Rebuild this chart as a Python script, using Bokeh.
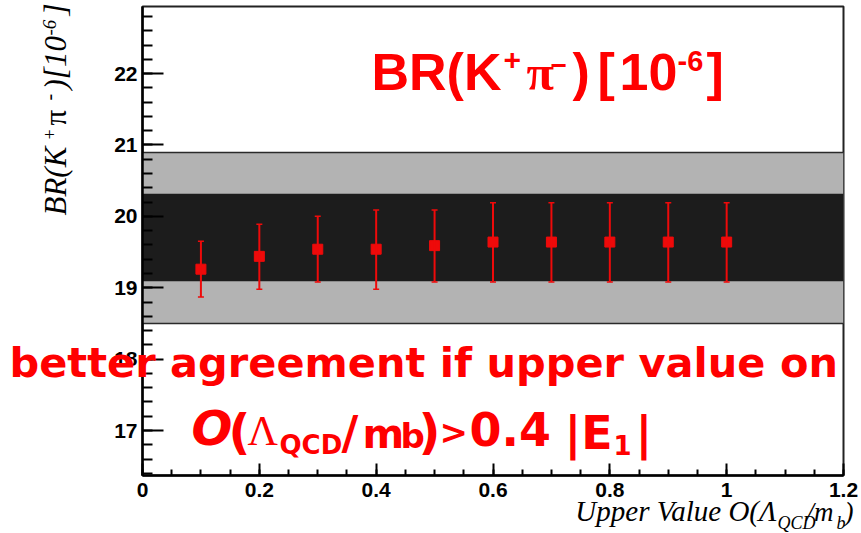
import math

from bokeh.core.properties import value
from bokeh.embed import file_html
from bokeh.models import ColumnDataSource, FixedTicker, Range1d, TeeHead, Whisker
from bokeh.plotting import figure
from bokeh.resources import INLINE

# Upper value assumed for O(Lambda_QCD/m_b), in units of |E1|
upper_value = [0.1, 0.2, 0.3, 0.4, 0.5, 0.6, 0.7, 0.8, 0.9, 1.0]
# Predicted BR(K+ pi-) in units of 1e-6, with its error range
br_pred = [19.26, 19.44, 19.54, 19.54, 19.59, 19.64, 19.64, 19.64, 19.64, 19.64]
br_pred_low = [18.87, 18.98, 19.08, 18.98, 19.08, 19.08, 19.08, 19.08, 19.08, 19.08]
br_pred_high = [19.65, 19.89, 20.00, 20.09, 20.09, 20.19, 20.19, 20.19, 20.19, 20.19]

# Experimental average: 2 sigma band (light) and 1 sigma band (dark)
exp_band_low = [18.5, 19.1]
exp_band_high = [20.9, 20.3]
exp_band_fill = ["#b3b3b3", "#1c1c1c"]
exp_band_edge = ["#2a2a2a", "#1c1c1c"]

x_ticks = [0, 0.2, 0.4, 0.6, 0.8, 1.0, 1.2]
x_tick_labels = ["0", "0.2", "0.4", "0.6", "0.8", "1", "1.2"]
y_ticks = [17, 18, 19, 20, 21, 22]
y_tick_labels = ["17", "18", "19", "20", "21", "22"]

X0, X1 = 0.0, 1.2
Y0, Y1 = 16.37, 22.94

W, H = 861, 533
FL, FR, FT, FB = 142, 843, 6, 475  # frame edges in pixels

RED = "#ff0000"
MARK = "#ee0a0a"

p = figure(
    width=W, height=H,
    x_range=Range1d(X0, X1), y_range=Range1d(Y0, Y1),
    output_backend="svg", toolbar_location=None,
    min_border_left=FL, min_border_right=W - FR,
    min_border_top=FT, min_border_bottom=H - FB,
    background_fill_color="white", border_fill_color="white",
)
p.outline_line_color = "#222222"
p.outline_line_width = 2
p.xgrid.visible = False
p.ygrid.visible = False

# experimental bands spanning the whole x range
bands = ColumnDataSource(dict(y0=exp_band_low, y1=exp_band_high,
                              fill=exp_band_fill, edge=exp_band_edge))
p.hstrip(y0="y0", y1="y1", source=bands, fill_color="fill",
         line_color="edge", line_width=1.5)

# predictions with error bars
pred = ColumnDataSource(dict(x=upper_value, y=br_pred,
                             lower=br_pred_low, upper=br_pred_high))
p.scatter("x", "y", source=pred, marker="square", size=10,
          fill_color=MARK, line_color=MARK)
p.add_layout(Whisker(
    source=pred, base="x", lower="lower", upper="upper",
    line_color=MARK, line_width=2, level="annotation",
    upper_head=TeeHead(size=6, line_color=MARK, line_width=1.5),
    lower_head=TeeHead(size=6, line_color=MARK, line_width=1.5),
))

# axes
x_minor = [round(i * 0.05, 2) for i in range(0, 25)]
y_minor = [round(16.4 + i * 0.2, 1) for i in range(0, 33)]
p.xaxis.ticker = FixedTicker(ticks=x_ticks, minor_ticks=x_minor)
p.yaxis.ticker = FixedTicker(ticks=y_ticks, minor_ticks=y_minor)
p.xaxis.major_label_overrides = dict(zip(x_ticks, x_tick_labels))
p.yaxis.major_label_overrides = dict(zip(y_ticks, y_tick_labels))

for ax in (p.xaxis, p.yaxis):
    ax.axis_line_color = "black"
    ax.axis_line_width = 2.5
    ax.major_tick_line_color = "black"
    ax.major_tick_line_width = 2
    ax.minor_tick_line_color = "black"
    ax.minor_tick_line_width = 2
    ax.major_tick_out = 0
    ax.minor_tick_out = 0
    ax.major_label_text_font = "Liberation Sans"
    ax.major_label_text_font_style = "bold"
    ax.major_label_text_font_size = "21px"
    ax.major_label_text_color = "black"

p.xaxis.major_tick_in = 12
p.xaxis.minor_tick_in = 6
p.xaxis.major_label_standoff = 7
p.yaxis.major_tick_in = 21
p.yaxis.minor_tick_in = 10
p.yaxis.major_label_standoff = 5


def dx(px):
    return X0 + (px - FL) / (FR - FL) * (X1 - X0)


def dy(py):
    return Y1 - (py - FT) / (FB - FT) * (Y1 - Y0)


# the svg text anchor sits this fraction of the font size above the baseline
BASE_SHIFT = 0.42


def put(text, px, py, size, font, style="normal", color="black",
        align="left", angle=0.0):
    """Place text whose baseline starts at pixel (px, py); drawn on the
    overlay level so that it may run past the frame."""
    if angle:
        px -= BASE_SHIFT * size
    else:
        py -= BASE_SHIFT * size
    p.text(x=[dx(px)], y=[dy(py)], text=[text],
           text_font=value(font), text_font_style=style,
           text_font_size=f"{size}px", text_color=color,
           text_align=align, text_baseline="alphabetic",
           angle=angle, level="overlay")


SANS = "Liberation Sans"
SERIF = "Liberation Serif"
ROUND = "DejaVu Sans"
UP = math.pi / 2

# y axis title, written bottom to top
put("BR(K", 68, 215, 31, SERIF, "italic", angle=UP)
put("+", 57, 139, 18, SERIF, "normal", angle=UP)
put("π", 68, 125, 31, SERIF, "normal", angle=UP)
put("-", 57, 100, 20, SERIF, "normal", angle=UP)
put(")[10", 68, 89, 31, SERIF, "italic", angle=UP)
put("-6", 57, 35, 19, SERIF, "italic", angle=UP)
put("]", 68, 15, 31, SERIF, "italic", angle=UP)

# x axis title
put("Upper Value O(Λ", 776, 523, 29, SERIF, "italic", align="right")
put("QCD", 777, 530, 18, SERIF, "italic")
put("/m", 806, 523, 27, SERIF, "italic")
put("b", 836, 530, 18, SERIF, "italic")
put(")", 844, 523, 27, SERIF, "italic")

# headline
put("BR(K", 371, 93, 52, SANS, "bold", RED)
put("+", 503, 72, 30, SANS, "bold", RED)
put("π", 526, 93, 50, SERIF, "bold", RED)
put("−", 550, 77, 28, SANS, "bold", RED)
put(")", 572, 93, 52, SANS, "bold", RED)
put("[", 597, 93, 52, SANS, "bold", RED)
put("10", 619, 93, 52, SANS, "bold", RED)
put("-6", 677, 73, 29, SANS, "bold", RED)
put("]", 706, 93, 52, SANS, "bold", RED)

# conclusion
put("better agreement if upper value on", 9, 379, 41.5, ROUND, "bold", RED)
put("O", 191, 448, 48, ROUND, "bold italic", RED)
put("(", 228, 452, 48, ROUND, "bold", RED)
put("Λ", 247, 448, 42, SERIF, "normal", RED)
put("QCD", 279, 455, 26, ROUND, "bold", RED)
put("/", 341, 452, 46, ROUND, "bold", RED)
put("m", 362, 450, 40, ROUND, "bold", RED)
put("b", 400, 450, 34, ROUND, "bold", RED)
put(")", 418, 452, 48, ROUND, "bold", RED)
put(">", 439, 446, 34, ROUND, "bold", RED)
put("0.4", 469, 448, 46, ROUND, "bold", RED)
put("|E", 564, 452, 46, ROUND, "bold", RED)
put("1", 613, 455, 26, ROUND, "bold", RED)
put("|", 635, 452, 46, ROUND, "bold", RED)

open("out.html", "w").write(file_html(p, INLINE))
